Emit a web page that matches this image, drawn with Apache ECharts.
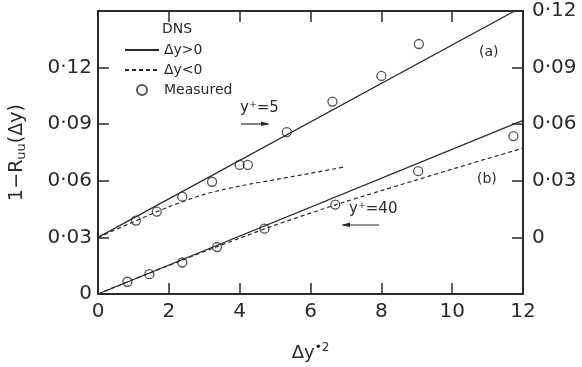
<!DOCTYPE html>
<html>
<head>
<meta charset="utf-8">
<script src="https://cdn.jsdelivr.net/npm/echarts@6/dist/echarts.min.js"></script>
<style>
  html, body { margin: 0; padding: 0; background: #fff; }
  #chart { width: 582px; height: 367px; }
</style>
</head>
<body>
<div id="chart"></div>
<script>
// x ticks
var xTicks = [0, 2, 4, 6, 8, 10, 12];

// (a) y+ = 5, read against the right-hand axis
var aSolid = [[0, 0], [12, 0.1224]];
var aDashed = [[0, 0], [1, 0.0082], [2, 0.0162], [3, 0.0228], [4, 0.0272], [5, 0.0306], [6, 0.0340], [7, 0.0375]];
var aMeasured = [[1.07, 0.0089], [1.66, 0.0137], [2.38, 0.0216], [3.22, 0.0295], [4.0, 0.0384], [4.23, 0.0384],
                 [5.33, 0.0558], [6.62, 0.0720], [8.0, 0.0856], [9.06, 0.1025]];

// (b) y+ = 40, read against the left-hand axis
var bSolid = [[0, 0], [12, 0.0920]];
var bDashed = [[0, 0], [1, 0.0077], [2, 0.0151], [3, 0.0225], [4, 0.0296], [5, 0.0365], [6, 0.0429],
               [7, 0.0490], [8, 0.0548], [9, 0.0605], [10, 0.0662], [11, 0.0718], [12, 0.0773]];
var bMeasured = [[0.83, 0.0065], [1.45, 0.0105], [2.38, 0.0167], [3.36, 0.0249], [4.70, 0.0346],
                 [6.70, 0.0474], [9.04, 0.0651], [11.73, 0.0837]];

var ink = '#2a2a2a';
var font = 'DejaVu Sans';

function dotFmt(v) {
    if (Math.abs(v) < 1e-9) return '0';
    return v.toFixed(2).replace('.', '·');
}

var lineStyleSolid = { color: ink, width: 1.2, type: 'solid' };
var lineStyleDash = { color: ink, width: 1.2, type: [4, 3] };
var circleStyle = { color: 'rgba(0,0,0,0)', borderColor: ink, borderWidth: 1.3 };
var axLine = { show: true, onZero: false, lineStyle: { color: ink, width: 2 } };
var axTick = { inside: true, length: 11, lineStyle: { color: ink, width: 1.5 } };

var option = {
    animation: false,
    backgroundColor: '#fff',
    grid: { left: 96, right: 59, top: 11, bottom: 72, containLabel: false },
    legend: {
        orient: 'vertical',
        left: 119,
        top: 38,
        itemWidth: 34,
        itemHeight: 10,
        itemGap: 6,
        textStyle: { fontFamily: font, fontSize: 14, color: ink },
        data: [
            { name: 'Δy>0', itemStyle: { opacity: 0 } },
            { name: 'Δy<0', itemStyle: { opacity: 0 } },
            { name: 'Measured' }
        ]
    },
    xAxis: [{
        type: 'value', min: 0, max: 12, interval: 2,
        axisLine: axLine,
        axisTick: axTick,
        axisLabel: { fontFamily: font, fontSize: 20, color: ink, margin: 8,
            formatter: function (v) { return xTicks.indexOf(v) >= 0 ? String(v) : ''; } },
        splitLine: { show: false },
        name: 'Δy{sup|•2}',
        nameLocation: 'middle',
        nameGap: 48,
        nameTextStyle: { fontFamily: font, fontSize: 18, color: ink,
            rich: { sup: { fontFamily: font, fontSize: 12, color: ink, verticalAlign: 'top', padding: [0, 0, 10, 0] } } }
    }, {
        type: 'value', min: 0, max: 12, interval: 2, position: 'top',
        axisLine: axLine,
        axisTick: axTick,
        axisLabel: { show: false },
        splitLine: { show: false }
    }],
    yAxis: [{
        type: 'value', min: 0, max: 0.15, interval: 0.03,
        axisLine: axLine,
        axisTick: axTick,
        axisLabel: { fontFamily: font, fontSize: 20, color: ink, margin: 6,
            formatter: function (v) { return v > 0.13 ? '' : dotFmt(v); } },
        splitLine: { show: false },
        name: '1−R{sub|uu}(Δy)',
        nameLocation: 'middle',
        nameGap: 70,
        nameTextStyle: { fontFamily: font, fontSize: 19, color: ink,
            rich: { sub: { fontFamily: font, fontSize: 13, color: ink, padding: [8, 0, 0, 0] } } }
    }, {
        type: 'value', min: -0.03, max: 0.12, interval: 0.03, position: 'right',
        axisLine: axLine,
        axisTick: axTick,
        axisLabel: { fontFamily: font, fontSize: 20, color: ink, margin: 9,
            formatter: function (v) { return v < -0.001 ? '' : dotFmt(v); } },
        splitLine: { show: false }
    }],
    series: [
        { name: 'Δy>0', type: 'line', yAxisIndex: 1, data: aSolid, symbol: 'none', lineStyle: lineStyleSolid, itemStyle: { color: ink }, clip: true },
        { name: 'Δy<0', type: 'line', yAxisIndex: 1, data: aDashed, symbol: 'none', smooth: 0.3, lineStyle: lineStyleDash, itemStyle: { color: ink } },
        { name: 'Measured', type: 'scatter', yAxisIndex: 1, data: aMeasured, symbol: 'circle', symbolSize: 9, itemStyle: circleStyle },
        { name: 'Δy>0', type: 'line', yAxisIndex: 0, data: bSolid, symbol: 'none', lineStyle: lineStyleSolid, itemStyle: { color: ink } },
        { name: 'Δy<0', type: 'line', yAxisIndex: 0, data: bDashed, symbol: 'none', smooth: 0.3, lineStyle: lineStyleDash, itemStyle: { color: ink } },
        { name: 'Measured', type: 'scatter', yAxisIndex: 0, data: bMeasured, symbol: 'circle', symbolSize: 9, itemStyle: circleStyle }
    ],
    graphic: [
        { type: 'text', left: 162, top: 22, style: { text: 'DNS', font: '14px "DejaVu Sans"', fill: ink } },
        { type: 'text', left: 479, top: 45, style: { text: '(a)', font: '14px "DejaVu Sans"', fill: ink } },
        { type: 'text', left: 477, top: 172, style: { text: '(b)', font: '14px "DejaVu Sans"', fill: ink } },
        { type: 'text', left: 240, top: 101, style: { text: 'y⁺=5', font: '15px "DejaVu Sans"', fill: ink } },
        { type: 'line', shape: { x1: 241, y1: 124, x2: 268, y2: 124 }, style: { stroke: ink, lineWidth: 1.2 } },
        { type: 'polygon', shape: { points: [[270, 124], [261, 121.5], [261, 126]] }, style: { fill: ink } },
        { type: 'text', left: 349, top: 202, style: { text: 'y⁺=40', font: '15px "DejaVu Sans"', fill: ink } },
        { type: 'line', shape: { x1: 343, y1: 225, x2: 379, y2: 225 }, style: { stroke: ink, lineWidth: 1.2 } },
        { type: 'polygon', shape: { points: [[341, 225], [350, 222.5], [350, 227]] }, style: { fill: ink } }
    ]
};

var chart = echarts.init(document.getElementById('chart'), null, { renderer: 'canvas' });
chart.setOption(option);
</script>
</body>
</html>
